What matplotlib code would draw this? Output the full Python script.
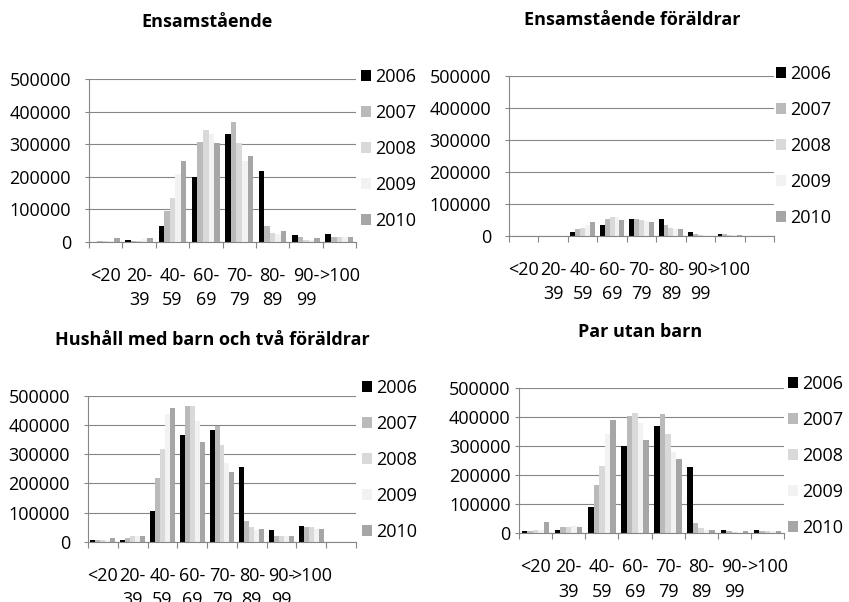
import matplotlib.pyplot as plt
import numpy as np

plt.rcParams['font.family'] = ['Open Sans', 'DejaVu Sans']

years = ["2006", "2007", "2008", "2009", "2010"]
colors = ["#000000", "#bababa", "#d9d9d9", "#f2f2f2", "#a6a6a6"]

cats8 = ["<20", "20-\n39", "40-\n59", "60-\n69", "70-\n79", "80-\n89", "90-\n99", ">100"]
cats9 = cats8 + [""]

# Ensamstående
ensam = [
    [0, 4000, 49000, 200000, 331000, 217000, 20000, 24000],
    [3000, 3000, 94000, 306000, 368000, 49000, 14000, 14000],
    [2000, 3000, 135000, 343000, 304000, 28000, 5000, 14000],
    [2000, 7000, 208000, 331000, 248000, 25000, 5000, 14000],
    [10000, 10000, 248000, 302000, 263000, 33000, 10000, 14000],
]

# Ensamstående föräldrar
ensam_foraldrar = [
    [0, 0, 11500, 35000, 53000, 53000, 11500, 5000, 0],
    [0, 0, 20000, 51000, 53000, 35000, 5000, 5000, 0],
    [0, 0, 23000, 58000, 50000, 25000, 1500, 3000, 0],
    [0, 0, 33000, 58000, 45000, 22000, 1000, 2000, 0],
    [0, 0, 43000, 50000, 43000, 22000, 500, 1000, 0],
]

# Hushåll med barn och två föräldrar
hushall = [
    [7000, 7000, 105000, 365000, 382000, 256000, 40000, 54000, 0],
    [7000, 11000, 217000, 465000, 396000, 71000, 19000, 50000, 0],
    [6000, 19000, 317000, 465000, 331000, 50000, 19000, 50000, 0],
    [6000, 19000, 436000, 413000, 270000, 39000, 19000, 42000, 0],
    [11000, 19000, 458000, 340000, 239000, 42000, 19000, 42000, 0],
]

# Par utan barn
par = [
    [8000, 11500, 92000, 301000, 370000, 230000, 11500, 11500],
    [8000, 23000, 167000, 405000, 410000, 34000, 9000, 9000],
    [11000, 23000, 232000, 414000, 343000, 20000, 3000, 9000],
    [11000, 25000, 343000, 380000, 280000, 13000, 1000, 9000],
    [39000, 23000, 390000, 322000, 257000, 13000, 9000, 9000],
]

W, H = 849, 602
fig = plt.figure(figsize=(W / 100, H / 100), dpi=100)

gray = "#868686"


def px_axes(x0, x1, ytop, ybot):
    return fig.add_axes([x0 / W, 1 - ybot / H, (x1 - x0) / W, (ybot - ytop) / H])


def draw(ax, data, cats, title, title_xy, leg_xy, ypad):
    n = len(cats)
    x = np.arange(n)
    bw = 1 / 6
    handles = []
    for i, (vals, c) in enumerate(zip(data, colors)):
        vals = list(vals) + [0] * (n - len(vals))
        b = ax.bar(x - 2 * bw + i * bw, vals, width=bw, color=c, linewidth=0)
        handles.append(b)
    ax.set_xlim(-0.5, n - 0.5)
    ax.set_ylim(0, 500000)
    ax.set_yticks(range(0, 500001, 100000))
    ax.set_yticklabels([str(v) for v in range(0, 500001, 100000)])
    ax.set_xticks(x)
    ax.set_xticklabels(cats, linespacing=1.45)
    ax.set_xticks(np.arange(n + 1) - 0.5, minor=True)
    ax.tick_params(axis="x", which="major", length=0, pad=18, labelsize=13)
    ax.tick_params(axis="x", which="minor", length=4.5, color=gray, width=0.8)
    ax.tick_params(axis="y", length=3, color=gray, width=0.8, pad=ypad, labelsize=13)
    for s in ["top", "right"]:
        ax.spines[s].set_visible(False)
    for s in ["left", "bottom"]:
        ax.spines[s].set_color(gray)
        ax.spines[s].set_linewidth(0.8)
    ax.grid(axis="y", color=gray, linewidth=0.8)
    ax.set_axisbelow(True)
    fig.text(title_xy[0] / W, 1 - title_xy[1] / H, title, ha="center", va="center",
             fontsize=13, fontweight="bold")
    ax.legend(handles, years, loc="upper left",
              bbox_to_anchor=(leg_xy[0] / W, 1 - leg_xy[1] / H),
              bbox_transform=fig.transFigure, frameon=False, fontsize=13,
              handlelength=0.55, handleheight=0.55, handletextpad=0.25,
              labelspacing=1.0, borderpad=0, borderaxespad=0)


ax1 = px_axes(89, 356, 79, 241.7)
draw(ax1, ensam, cats8, "Ensamstående", (207, 22), (361, 68), 10)

ax2 = px_axes(509, 774, 76, 235.7)
draw(ax2, ensam_foraldrar, cats9, "Ensamstående föräldrar", (632, 20), (776, 65), 10)

ax3 = px_axes(88, 356, 395.7, 541.7)
draw(ax3, hushall, cats9, "Hushåll med barn och två föräldrar", (212, 340), (362, 379), 10)

ax4 = px_axes(519, 784, 388.3, 533.3)
draw(ax4, par, cats8, "Par utan barn", (640, 332), (788, 375), 3)

fig.savefig("out.png", dpi=100)
